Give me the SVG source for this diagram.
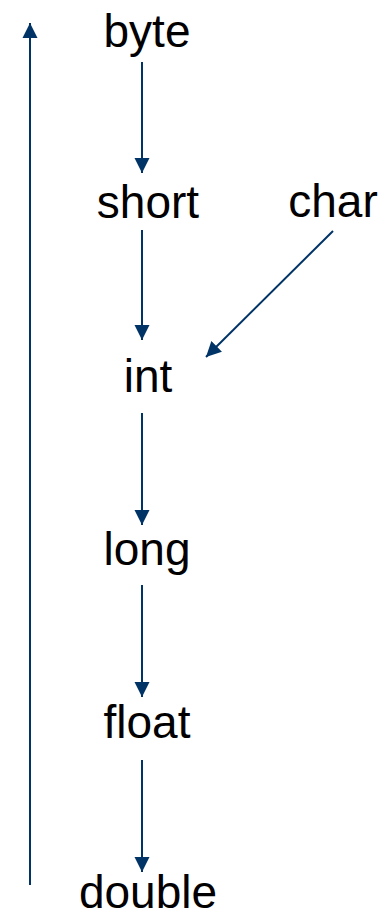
<svg xmlns="http://www.w3.org/2000/svg" width="387" height="912" viewBox="0 0 387 912">
<style>
.lbl{font-family:"Liberation Sans",Arial,sans-serif;font-size:46px;fill:#000;text-anchor:middle}
.c{stroke:#003366;stroke-width:2;fill:none}
</style>
<defs>
<marker id="ah" markerUnits="userSpaceOnUse" markerWidth="16" markerHeight="16" viewBox="0 0 16 16" refX="15" refY="8" orient="auto">
<path d="M0,0.5 L15,8 L0,15.5 Z" fill="#003366"/>
</marker>
</defs>
<g id="connectors">
<line class="c" x1="142" y1="62" x2="142" y2="173" marker-end="url(#ah)"/>
<line class="c" x1="142" y1="230" x2="142" y2="340" marker-end="url(#ah)"/>
<line class="c" x1="333" y1="231" x2="206" y2="357" marker-end="url(#ah)"/>
<line class="c" x1="142" y1="413" x2="142" y2="525" marker-end="url(#ah)"/>
<line class="c" x1="142" y1="585" x2="142" y2="697" marker-end="url(#ah)"/>
<line class="c" x1="142" y1="760" x2="142" y2="872" marker-end="url(#ah)"/>
<line class="c" x1="30" y1="885" x2="30" y2="23" marker-end="url(#ah)"/>
</g>
<g id="byte"><text class="lbl" x="147" y="47">byte</text></g>
<g id="short"><text class="lbl" x="148" y="218">short</text></g>
<g id="char"><text class="lbl" x="333" y="217">char</text></g>
<g id="int"><text class="lbl" x="148" y="392">int</text></g>
<g id="long"><text class="lbl" x="147" y="565">long</text></g>
<g id="float"><text class="lbl" x="147" y="738">float</text></g>
<g id="double"><text class="lbl" x="148" y="908">double</text></g>
</svg>
